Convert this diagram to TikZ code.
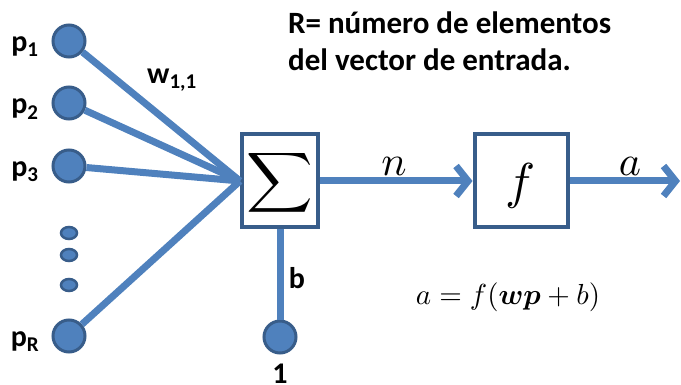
\documentclass[tikz,border=0pt]{standalone}
\usepackage{amsmath,amssymb}
\usepackage{fontspec}
\setmainfont{Carlito}
\usetikzlibrary{arrows.meta, positioning}
\definecolor{wireblue}{RGB}{79,129,189}
\definecolor{edgeblue}{RGB}{56,93,138}

\begin{document}
\begin{tikzpicture}[x=1pt, y=-1pt,
    wire/.style={draw=wireblue, line width=7pt},
    inp/.style={circle, draw=edgeblue, fill=wireblue, line width=3pt, minimum size=32pt, inner sep=0pt},
    blk/.style={draw=edgeblue, fill=white, line width=4pt, minimum width=76pt, minimum height=93pt, inner sep=0pt},
    lbl/.style={font=\fontsize{30}{36}\selectfont\bfseries, inner sep=0pt},
    txt/.style={font=\fontsize{31}{37}\selectfont\bfseries, align=left, inner sep=0pt},
    var/.style={scale=4.2, inner sep=0pt},
    tip/.style={-{Straight Barb[length=12pt, width=30pt, line width=7pt]}}]
    \useasboundingbox (0,0) rectangle (681,385);
    \node[inp] (p1) at (69,41) {};
    \node[inp] (p2) at (69,103) {};
    \node[inp] (p3) at (69,166) {};
    \node[inp] (pR) at (69,336) {};
    \node[inp] (one) at (280,337) {};
    \foreach \y in {233,255,285}
        \draw[draw=edgeblue, fill=wireblue, line width=2.5pt] (69,\y) ellipse (8 and 6);
    \node[lbl] at (25,47) {p\textsubscript{1}};
    \node[lbl] at (25,109) {p\textsubscript{2}};
    \node[lbl] at (25,172) {p\textsubscript{3}};
    \node[lbl] at (25,342) {p\textsubscript{R}};
    \node[blk] (sum) at (280,181) {};
    \node[blk, minimum width=93pt] (act) at (521,181) {};
    \coordinate (out) at (680,181);
    \draw[wire] (p1) -- (sum.west);
    \draw[wire] (p2) -- (sum.west);
    \draw[wire] (p3) -- (sum.west);
    \draw[wire] (pR) -- (sum.west);
    \draw[wire] (one) -- (sum.south);
    \draw[wire, tip] (sum.east) -- (act.west);
    \draw[wire, tip] (act.east) -- (out);
    \node[var, xscale=1.1] at (280,183) {$\displaystyle\sum$};
    \node[var, scale=1.2] at (521,186) {$f$};
    \node[var] at (394,166) {$n$};
    \node[var] at (630,166) {$a$};
    \node[lbl] at (172,80) {w\textsubscript{1,1}};
    \node[lbl] at (297,278) {b};
    \node[lbl, anchor=north] at (280,364) {1};
    \node[txt, anchor=north west] at (288,12) {R= número de elementos\\del vector de entrada.};
    \node[scale=2.9, inner sep=0pt] at (508,297) {$a = f(\boldsymbol{w}\boldsymbol{p} + b)$};
\end{tikzpicture}
\end{document}
